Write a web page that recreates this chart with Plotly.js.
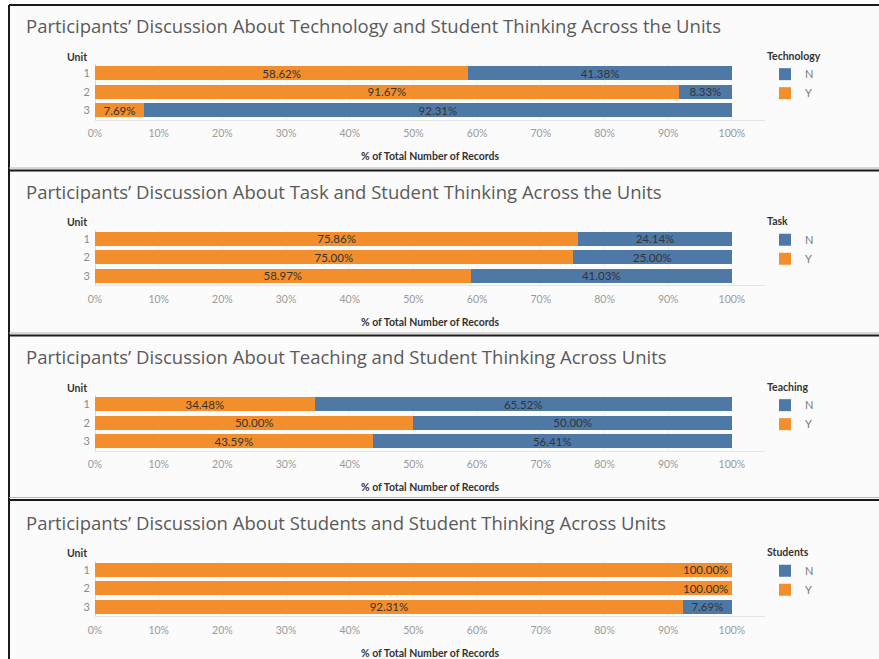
<!DOCTYPE html>
<html>
<head>
<meta charset="utf-8">
<script src="https://cdn.plot.ly/plotly-3.0.1.min.js"></script>
<style>html,body{margin:0;padding:0;background:#fff;}#chart{width:879px;height:659px;}</style>
</head>
<body>
<div id="chart"></div>
<script>
// ---- data ----
const units = ['1', '2', '3'];
const panelTitles = [
  'Participants\u2019 Discussion About Technology and Student Thinking Across the Units',
  'Participants\u2019 Discussion About Task and Student Thinking Across the Units',
  'Participants\u2019 Discussion About Teaching and Student Thinking Across Units',
  'Participants\u2019 Discussion About Students and Student Thinking Across Units'
];
const legendTitles = ['Technology', 'Task', 'Teaching', 'Students'];
const techY = [58.62, 91.67, 7.69];
const techN = [41.38, 8.33, 92.31];
const taskY = [75.86, 75.00, 58.97];
const taskN = [24.14, 25.00, 41.03];
const teachY = [34.48, 50.00, 43.59];
const teachN = [65.52, 50.00, 56.41];
const studY = [100.00, 100.00, 92.31];
const studN = [0.00, 0.00, 7.69];
const xTicks = [0, 10, 20, 30, 40, 50, 60, 70, 80, 90, 100];
const axisTitle = '% of Total Number of Records';
const unitLabel = 'Unit';

const seriesY = [techY, taskY, teachY, studY];
const seriesN = [techN, taskN, teachN, studN];

// ---- style ----
const W = 879, H = 659;
const ORANGE = '#F28E2B', BLUE = '#4E79A7';
const FONT = 'Lato, "Open Sans", sans-serif';
const TITLE_FONT = '"Open Sans", Lato, sans-serif';
const PITCH = 165.5;
const px = v => 1 - v / H;

const fmt = v => v > 0 ? v.toFixed(2) + '%' : '';

const data = [];
const annotations = [];
const shapes = [];
const layout = {
  width: W, height: H,
  margin: {l: 0, r: 0, t: 0, b: 0},
  paper_bgcolor: '#ffffff',
  plot_bgcolor: 'rgba(0,0,0,0)',
  barmode: 'stack',
  showlegend: true,
  uniformtext: {mode: 'show', minsize: 11.5},
  font: {family: FONT, color: '#555'}
};

// panel background and borders
shapes.push({type: 'rect', xref: 'paper', yref: 'paper', x0: 9 / W, x1: 1, y0: 0, y1: px(5),
  fillcolor: '#fbfbfb', line: {width: 0}, layer: 'below'});
shapes.push({type: 'line', xref: 'paper', yref: 'paper', x0: 9 / W, x1: 9 / W, y0: 0, y1: px(5),
  line: {color: '#1a1a1a', width: 2}});
[5, 170.5, 335.5, 500].forEach((yy, i) => {
  if (i > 0) {
    shapes.push({type: 'line', xref: 'paper', yref: 'paper', x0: 9 / W, x1: 1, y0: px(yy - 2.5), y1: px(yy - 2.5),
      line: {color: '#b5b5b5', width: 1}});
  }
  shapes.push({type: 'line', xref: 'paper', yref: 'paper', x0: 9 / W, x1: 1, y0: px(yy), y1: px(yy),
    line: {color: '#1a1a1a', width: 2}});
});

for (let k = 0; k < 4; k++) {
  const dy = PITCH * k;
  const sfx = k === 0 ? '' : String(k + 1);
  const xa = 'x' + sfx, ya = 'y' + sfx;
  const lg = 'legend' + sfx;

  const yText = seriesY[k].map(v => (v >= 100 ? '' : fmt(v)));
  data.push({
    type: 'bar', orientation: 'h', name: 'Y', x: seriesY[k], y: units,
    xaxis: xa, yaxis: ya, legend: lg,
    marker: {color: ORANGE, line: {width: 0}},
    width: 0.75,
    text: yText, textposition: 'inside', insidetextanchor: 'middle', textangle: 0,
    insidetextfont: {family: FONT, size: 11.5, color: '#333'},
    hoverinfo: 'x+y+name'
  });
  data.push({
    type: 'bar', orientation: 'h', name: 'N', x: seriesN[k], y: units,
    xaxis: xa, yaxis: ya, legend: lg,
    marker: {color: BLUE, line: {width: 0}},
    width: 0.75,
    text: seriesN[k].map(fmt), textposition: 'inside', insidetextanchor: 'middle', textangle: 0,
    insidetextfont: {family: FONT, size: 11.5, color: '#333'},
    hoverinfo: 'x+y+name'
  });
  // full-width labels placed at the bar end
  seriesY[k].forEach((v, i) => {
    if (v >= 100) {
      annotations.push({xref: xa, yref: ya, x: v, y: i, xanchor: 'right', yanchor: 'middle',
        xshift: -2, text: fmt(v), showarrow: false, font: {family: FONT, size: 11.5, color: '#333'}});
    }
  });

  layout['xaxis' + sfx] = {
    domain: [95 / W, 765 / W], anchor: ya,
    range: [0, 105.2], tickvals: xTicks, ticktext: xTicks.map(t => t + '%'),
    showgrid: true, gridcolor: '#f0f0f0', gridwidth: 1,
    zeroline: true, zerolinecolor: '#dcdcdc', zerolinewidth: 1,
    showline: true, linecolor: '#e4e4e4', linewidth: 1,
    ticks: '', ticklabelstandoff: 4,
    tickfont: {family: FONT, size: 10.5, color: '#9a9a9a'},
    fixedrange: true
  };
  layout['yaxis' + sfx] = {
    domain: [px(119.5 + dy), px(64 + dy)], anchor: xa,
    type: 'category', categoryarray: units, autorange: 'reversed',
    showgrid: false, zeroline: false, showline: false, ticks: '',
    ticklabelstandoff: 4,
    tickfont: {family: FONT, size: 11, color: '#8a8a8a'},
    fixedrange: true
  };
  layout[lg] = {
    x: 765 / W, xanchor: 'left', y: px(46 + dy), yanchor: 'top',
    bgcolor: 'rgba(0,0,0,0)', borderwidth: 0,
    traceorder: 'reversed', tracegroupgap: 0, itemwidth: 30,
    title: {text: legendTitles[k], side: 'top', font: {family: FONT, size: 10.5, color: '#333', weight: 'bold'}},
    font: {family: FONT, size: 11, color: '#777'}
  };

  // panel title
  annotations.push({xref: 'paper', yref: 'paper', x: 24 / W, y: px(26 + dy), xanchor: 'left', yanchor: 'middle',
    text: panelTitles[k], showarrow: false, font: {family: TITLE_FONT, size: 18.5, color: '#5a5a5a'}});
  // "Unit" header
  annotations.push({xref: 'paper', yref: 'paper', x: 89 / W, y: px(56.5 + dy), xanchor: 'right', yanchor: 'middle',
    text: unitLabel, showarrow: false, font: {family: FONT, size: 10.5, color: '#333', weight: 'bold'}});
  // axis title
  annotations.push({xref: 'paper', yref: 'paper', x: 430 / W, y: px(156 + dy), xanchor: 'center', yanchor: 'middle',
    text: axisTitle, showarrow: false, font: {family: FONT, size: 10.5, color: '#333', weight: 'bold'}});
}

layout.annotations = annotations;
layout.shapes = shapes;

Plotly.newPlot('chart', data, layout, {displayModeBar: false, staticPlot: true});
</script>
</body>
</html>
